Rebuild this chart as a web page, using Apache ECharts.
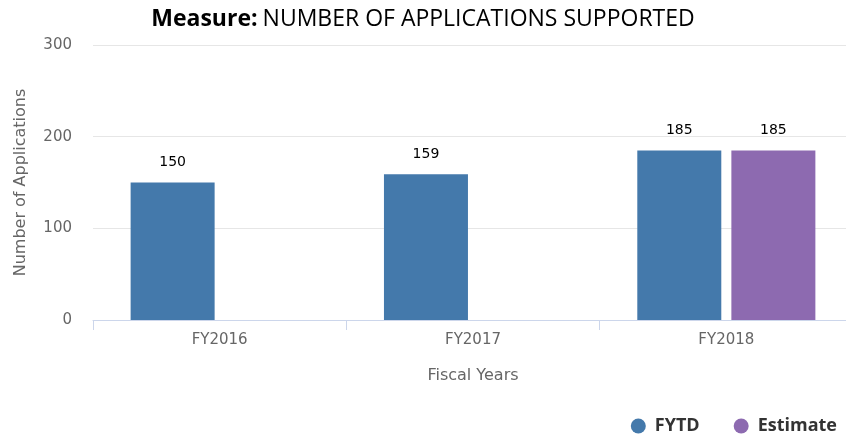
<!DOCTYPE html>
<html>
<head>
<meta charset="UTF-8">
<title>Number of Applications Supported</title>
<script src="https://cdn.jsdelivr.net/npm/echarts@6/dist/echarts.min.js"></script>
<style>
  html, body { margin: 0; padding: 0; background: #fff; }
  #main { width: 846px; height: 440px; }
</style>
</head>
<body>
<div id="main"></div>
<script>
var years = ['FY2016', 'FY2017', 'FY2018'];
var fytd = [150, 159, 185];
var estimate = [null, null, 185];

var chart = echarts.init(document.getElementById('main'));

var labelStyle = {
  show: true,
  position: 'top',
  distance: 13,
  color: '#000',
  fontSize: 14,
  fontFamily: 'DejaVu Sans'
};

var option = {
  animation: false,
  title: {
    text: '{b|Measure:} {n|NUMBER OF APPLICATIONS SUPPORTED}',
    left: 'center',
    top: 3,
    textStyle: {
      fontWeight: 'normal',
      rich: {
        b: { fontSize: 23, fontWeight: 'bold', color: '#000', fontFamily: 'Open Sans' },
        n: { fontSize: 23, fontWeight: 'normal', color: '#000', fontFamily: 'Open Sans' }
      }
    }
  },
  legend: {
    right: 4,
    bottom: 0,
    icon: 'circle',
    itemWidth: 15,
    itemHeight: 15,
    itemGap: 34,
    textStyle: { fontSize: 18, fontWeight: 'bold', color: '#333', fontFamily: 'Open Sans', padding: [0, 0, 0, 4] },
    data: ['FYTD', 'Estimate']
  },
  grid: { left: 93, top: 45, width: 760, bottom: 120, outerBoundsMode: 'none' },
  xAxis: {
    type: 'category',
    data: years,
    name: 'Fiscal Years',
    nameLocation: 'middle',
    nameGap: 48,
    nameTextStyle: { color: '#666', fontSize: 16, fontFamily: 'DejaVu Sans' },
    axisLine: { lineStyle: { color: '#ccd6eb' } },
    axisTick: { show: true, length: 10, lineStyle: { color: '#ccd6eb' } },
    axisLabel: { color: '#666', fontSize: 15, margin: 13, fontFamily: 'DejaVu Sans' }
  },
  yAxis: {
    type: 'value',
    min: 0,
    max: 300,
    interval: 100,
    name: 'Number of Applications',
    nameLocation: 'middle',
    nameGap: 64,
    nameTextStyle: { color: '#666', fontSize: 16, fontFamily: 'DejaVu Sans' },
    axisLabel: { color: '#666', fontSize: 15, margin: 21, fontFamily: 'DejaVu Sans' },
    splitLine: { lineStyle: { color: '#e6e6e6' } }
  },
  series: [
    {
      name: 'FYTD',
      type: 'bar',
      data: fytd,
      barWidth: 84,
      barGap: '12%',
      itemStyle: { color: '#4479ab' },
      label: labelStyle
    },
    {
      name: 'Estimate',
      type: 'bar',
      data: estimate,
      barWidth: 84,
      itemStyle: { color: '#8d6ab0' },
      label: labelStyle
    }
  ]
};

chart.setOption(option);
</script>
</body>
</html>
